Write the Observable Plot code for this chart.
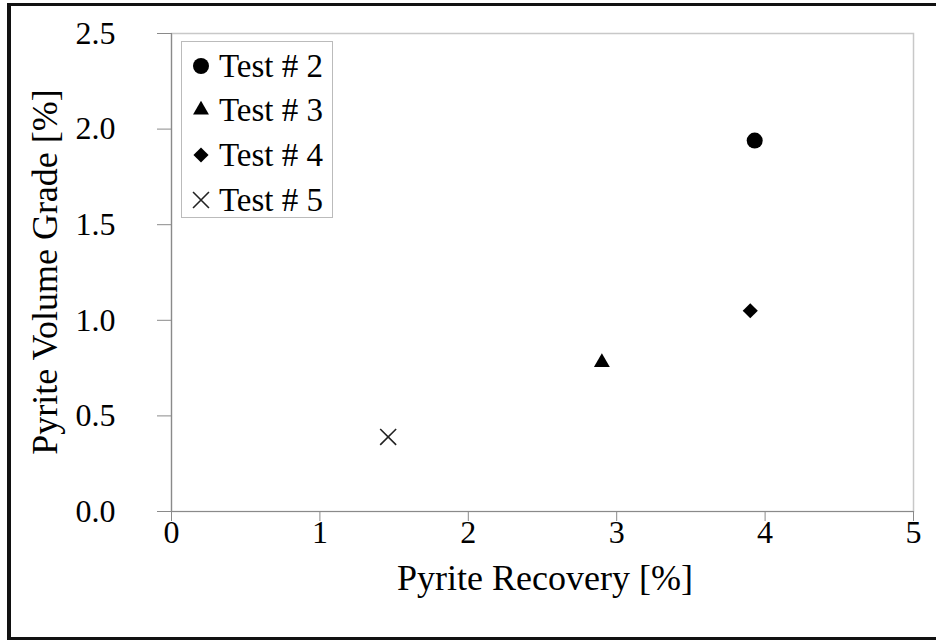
<!DOCTYPE html>
<html><head><meta charset="utf-8">
<script src="https://cdn.jsdelivr.net/npm/d3@7"></script>
<script src="https://cdn.jsdelivr.net/npm/@observablehq/plot@0.6"></script>
<style>
body{margin:0;background:#fff;}
#wrap{position:relative;width:936px;height:640px;overflow:hidden;font-family:"Liberation Serif","Times New Roman",Times,serif;color:#000;background:#fff;}
#chart{position:absolute;left:0;top:0;}
#border{position:absolute;left:7px;top:3px;width:960px;height:637px;box-sizing:border-box;border-left:4px solid #111;border-top:3px solid #111;border-bottom:3px solid #111;pointer-events:none;}
.title{position:absolute;white-space:nowrap;font-size:36px;line-height:40px;}
#xtitle{left:545px;top:578px;transform:translate(-50%,-50%);}
#ytitle{left:45px;top:272px;transform:translate(-50%,-50%) rotate(-90deg);}
#legend{position:absolute;left:181px;top:41px;width:152px;height:177px;box-sizing:border-box;border:1px solid #bbb;background:#fff;}
.lrow{position:absolute;left:0;height:40px;line-height:40px;font-size:33px;white-space:nowrap;}
.lrow svg{position:absolute;left:8px;top:9px;}
.lrow span{position:absolute;left:37px;top:0;}
</style>
</head><body>
<div id="wrap">
  <div id="chart"></div>
  <div id="legend"></div>
  <div class="title" id="xtitle"></div>
  <div class="title" id="ytitle"></div>
  <div id="border"></div>
</div>
<script>
// ---- data ----
const tests = ["Test # 2", "Test # 3", "Test # 4", "Test # 5"];
const recovery = [3.93, 2.90, 3.90, 1.46];   // Pyrite Recovery [%]
const grade = [1.94, 0.78, 1.05, 0.39];      // Pyrite Volume Grade [%]
const xTicks = [0, 1, 2, 3, 4, 5];
const yTicks = [0, 0.5, 1.0, 1.5, 2.0, 2.5];
const xLabel = "Pyrite Recovery [%]";
const yLabel = "Pyrite Volume Grade [%]";

// ---- styles (not data) ----
const symbols = ["circle", "triangle", "diamond2", "times"];
const d3Symbols = {circle: d3.symbolCircle, triangle: d3.symbolTriangle, diamond2: d3.symbolDiamond2, times: d3.symbolTimes};
const radii = [8, 5.9, 6.8, 7.3];
const filled = [true, true, true, false];

const rows = tests.map((t, i) => ({test: t, x: recovery[i], y: grade[i]}));

const dotMarks = rows.map((row, i) => Plot.dot([row], {
  x: "x", y: "y",
  symbol: symbols[i],
  r: radii[i],
  fill: filled[i] ? "black" : "none",
  stroke: filled[i] ? "none" : "#222",
  strokeWidth: 1.6
}));

const chart = Plot.plot({
  width: 936,
  height: 640,
  marginLeft: 171,
  marginRight: 23,
  marginTop: 33,
  marginBottom: 129,
  style: {fontFamily: "Liberation Serif, Times New Roman, Times, serif", background: "white", color: "black"},
  x: {domain: [0, 5]},
  y: {domain: [0, 2.5]},
  marks: [
    Plot.frame({stroke: "#c8c8c8", strokeWidth: 1.5}),
    Plot.ruleX([0], {stroke: "#8a8a8a", strokeWidth: 1.2}),
    Plot.ruleY([0], {stroke: "#8a8a8a", strokeWidth: 1.2}),
    Plot.axisX({ticks: xTicks, tickFormat: d => String(d), tickSize: 10, tickPadding: -1,
      fontSize: 32, stroke: "#8a8a8a", fill: "black", label: null}),
    Plot.axisY({ticks: yTicks, tickFormat: d3.format(".1f"), tickSize: 14, tickPadding: 42,
      fontSize: 32, stroke: "#8a8a8a", fill: "black", label: null}),
    ...dotMarks
  ]
});
document.getElementById("chart").appendChild(chart);

document.getElementById("xtitle").textContent = xLabel;
document.getElementById("ytitle").textContent = yLabel;

// ---- legend ----
const legend = d3.select("#legend");
const rowCenters = [24, 68, 113, 158];
tests.forEach((t, i) => {
  const row = legend.append("div").attr("class", "lrow").style("top", (rowCenters[i] - 20) + "px");
  const svg = row.append("svg").attr("width", 22).attr("height", 22);
  svg.append("path")
    .attr("transform", "translate(11,11)")
    .attr("d", d3.symbol(d3Symbols[symbols[i]], Math.PI * radii[i] * radii[i])())
    .attr("fill", filled[i] ? "black" : "none")
    .attr("stroke", filled[i] ? "none" : "#222")
    .attr("stroke-width", 1.6);
  row.append("span").text(t);
});
</script>
</body></html>
